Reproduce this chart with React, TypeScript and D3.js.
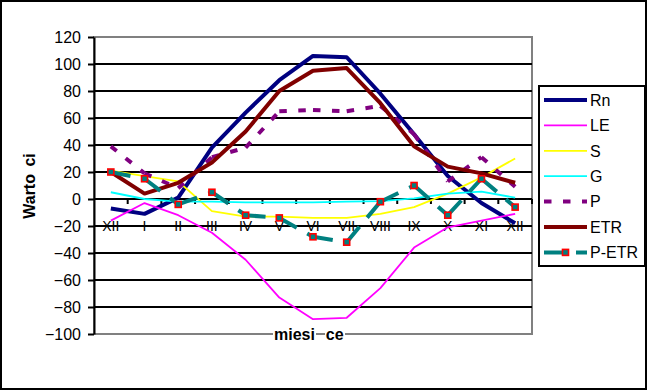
import React, { useEffect, useRef } from 'react'
import * as d3 from 'd3'

/* chart size and plot area (the gray frame in the reference) */
const width = 648
const height = 390
const plot = { left: 94, right: 532, top: 37, bottom: 334 }
const FONT = '"Liberation Sans", Arial, sans-serif'

/* months, December of the previous year to December */
const categories = ['XII', 'I', 'II', 'III', 'IV', 'V', 'VI', 'VII', 'VIII', 'IX', 'X', 'XI', 'XII']
const yTicks = [-100, -80, -60, -40, -20, 0, 20, 40, 60, 80, 100, 120]

/* series values */
const rn = [-7, -11, 1, 38, 64, 88, 106, 105, 78, 48, 17, -3, -18]
const le = [-16, -3, -12, -25, -45, -73, -89, -88, -66, -36, -21, -16, -11]
const s = [21, 17, 13, -9, -13, -13, -14, -14, -11, -6, 4, 16, 30]
const g = [5, 0, -2, -2, -2.5, -2.5, -2.5, -2, -1.5, 0.5, 4, 5.5, 1]
const p = [39, 19, 8, 31, 38, 65, 66, 65, 69, 48, 13, 31, 9]
const etr = [20, 4, 12, 27, 50, 80, 95, 97, 71, 39, 24, 19, 12]
const pEtr = [20, 15, -4, 5, -12, -14, -28, -32, -2, 10, -12, 15, -6]

/* drawing options, in the order Excel paints them */
const series = [
    { name: 'Rn', values: rn, color: '#000080', width: 4 },
    { name: 'LE', values: le, color: '#ff00ff', width: 1.8 },
    { name: 'S', values: s, color: '#ffff00', width: 1.8 },
    { name: 'G', values: g, color: '#00ffff', width: 1.8 },
    { name: 'P', values: p, color: '#800080', width: 4, dash: '7.5 11.5' },
    { name: 'ETR', values: etr, color: '#800000', width: 4 },
    { name: 'P-ETR', values: pEtr, color: '#008080', width: 4, dash: '20 12', marker: true },
]

const xScale = d3
    .scaleBand<number>()
    .domain(d3.range(categories.length))
    .range([plot.left, plot.right])
const yScale = d3.scaleLinear().domain([-100, 120]).range([plot.bottom, plot.top])
const cx = (i: number) => (xScale(i) as number) + xScale.bandwidth() / 2

const line = d3
    .line<[number, number]>()
    .x((d) => cx(d[0]))
    .y((d) => yScale(d[1]))

export default function App() {
    const yAxis = useRef<SVGGElement>(null)

    /* left axis through d3, then restyled like the Excel one */
    useEffect(() => {
        if (!yAxis.current) return
        const axis = d3.axisLeft(yScale).tickValues(yTicks).tickSizeInner(6).tickSizeOuter(0).tickPadding(7)
        const sel = d3.select(yAxis.current)
        sel.call(axis)
        sel.attr('font-size', 16).attr('font-family', FONT)
        sel.select('.domain').attr('stroke', '#000').attr('stroke-width', 2)
        sel.selectAll('.tick line').attr('stroke', '#000').attr('stroke-width', 2)
        sel.selectAll('.tick text').attr('fill', '#000')
    }, [])

    const legendY = (i: number) => 100 + i * 25.4

    return (
        <svg
            width={width}
            height={height}
            style={{ position: 'absolute', left: 0, top: 0, background: '#fff' }}
        >
            <rect x={1} y={1} width={width - 3} height={height - 2} fill="#fff" stroke="#000" strokeWidth={2} />

            {/* plot frame */}
            <rect
                x={plot.left}
                y={plot.top}
                width={plot.right - plot.left}
                height={plot.bottom - plot.top}
                fill="#fff"
                stroke="#808080"
                strokeWidth={2}
            />
            {/* grid lines */}
            {yTicks
                .filter((t) => t > -100 && t < 120)
                .map((t) => (
                    <line
                        key={t}
                        x1={plot.left}
                        x2={plot.right}
                        y1={yScale(t)}
                        y2={yScale(t)}
                        stroke="#000"
                        strokeWidth={2}
                    />
                ))}

            {/* category ticks and labels on the zero line */}
            {d3.range(1, categories.length + 1).map((i) => {
                const x = plot.left + i * xScale.bandwidth()
                return <line key={i} x1={x} x2={x} y1={yScale(0)} y2={yScale(0) + 5} stroke="#000" strokeWidth={2} />
            })}
            {categories.map((c, i) => (
                <text key={i} x={cx(i)} y={231} textAnchor="middle" fontSize={14} fontFamily={FONT} fill="#000">
                    {c}
                </text>
            ))}

            {/* series */}
            {series.map((d) => {
                const pts = d.values.map((v, i) => [i, v] as [number, number])
                /* dashed lines restart their pattern at each point, as in Excel */
                if (d.dash) {
                    return (
                        <g key={d.name}>
                            {d3.pairs(pts).map((pair, i) => (
                                <path
                                    key={i}
                                    d={line(pair) as string}
                                    fill="none"
                                    stroke={d.color}
                                    strokeWidth={d.width}
                                    strokeDasharray={d.dash}
                                />
                            ))}
                        </g>
                    )
                }
                return (
                    <path
                        key={d.name}
                        d={line(pts) as string}
                        fill="none"
                        stroke={d.color}
                        strokeWidth={d.width}
                        strokeLinejoin="round"
                    />
                )
            })}
            {/* P-ETR markers */}
            {pEtr.map((v, i) => (
                <rect
                    key={i}
                    x={cx(i) - 3}
                    y={yScale(v) - 3}
                    width={6}
                    height={6}
                    fill="#008080"
                    stroke="#ff0000"
                    strokeWidth={1.6}
                />
            ))}

            <g ref={yAxis} transform={`translate(${plot.left}, 0)`} />

            {/* axis titles, the frame line shows between the two words */}
            <rect x={273} y={326} width={43} height={15} fill="#fff" />
            <rect x={325} y={326} width={20} height={15} fill="#fff" />
            <text x={274} y={340} fontSize={16} fontWeight="bold" fontFamily={FONT} xmlSpace="preserve">
                miesi
                <tspan dx={6.5}> ce</tspan>
            </text>
            <text
                transform="translate(35, 186) rotate(-90)"
                textAnchor="middle"
                fontSize={16}
                fontWeight="bold"
                fontFamily={FONT}
                xmlSpace="preserve"
            >
                Warto
                <tspan dx={3}> ci</tspan>
            </text>

            {/* legend */}
            <rect x={539} y={86} width={106} height={180} fill="#fff" stroke="#000" strokeWidth={2} />
            {series.map((d, i) => (
                <g key={d.name}>
                    <line
                        x1={544}
                        x2={587}
                        y1={legendY(i)}
                        y2={legendY(i)}
                        stroke={d.color}
                        strokeWidth={d.width}
                        strokeDasharray={d.dash}
                    />
                    {d.marker && (
                        <rect
                            x={565.5 - 3}
                            y={legendY(i) - 3}
                            width={6}
                            height={6}
                            fill="#008080"
                            stroke="#ff0000"
                            strokeWidth={1.6}
                        />
                    )}
                    <text x={590} y={legendY(i)} dy="0.36em" fontSize={16} fontFamily={FONT} fill="#000">
                        {d.name}
                    </text>
                </g>
            ))}
        </svg>
    )
}
